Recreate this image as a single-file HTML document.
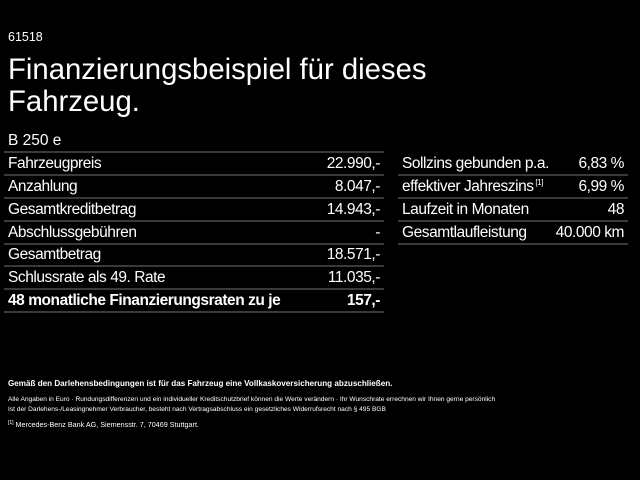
<!DOCTYPE html>
<html><head><meta charset="utf-8"><style>
body{margin:0;width:640px;height:480px;background:#000;color:#fff;font-family:"Liberation Sans",sans-serif;position:relative;overflow:hidden}
.a{position:absolute;white-space:nowrap}
.row{position:absolute;height:21px;border-bottom:2px solid #3a3a3a;font-size:15.5px;line-height:22px;letter-spacing:-0.45px}
.row span{position:absolute}
.r{right:4px}
.l{left:4px}
.s{font-size:12px;position:absolute;white-space:nowrap}
</style></head><body>
<div class="a" style="left:8px;top:54px;font-size:29.3px;line-height:32px">Finanzierungsbeispiel für dieses<br>Fahrzeug.</div>
<div class="a" style="left:8px;top:30px;font-size:12.5px">61518</div>
<div class="a" style="left:8px;top:132px;font-size:15.5px">B 250 e</div>
<div style="position:absolute;left:4px;top:151px;width:380px;height:2px;background:#3a3a3a"></div>
<div class="row" style="left:4px;width:380px;top:153px"><span class="l">Fahrzeugpreis</span><span class="r">22.990,-</span></div>
<div class="row" style="left:4px;width:380px;top:176px"><span class="l">Anzahlung</span><span class="r">8.047,-</span></div>
<div class="row" style="left:4px;width:380px;top:199px"><span class="l">Gesamtkreditbetrag</span><span class="r">14.943,-</span></div>
<div class="row" style="left:4px;width:380px;top:222px"><span class="l">Abschlussgebühren</span><span class="r">-</span></div>
<div class="row" style="left:4px;width:380px;top:244px"><span class="l">Gesamtbetrag</span><span class="r">18.571,-</span></div>
<div class="row" style="left:4px;width:380px;top:267px"><span class="l">Schlussrate als 49. Rate</span><span class="r">11.035,-</span></div>
<div class="row" style="left:4px;width:380px;top:290px;font-weight:bold"><span class="l">48 monatliche Finanzierungsraten zu je</span><span class="r">157,-</span></div>
<div class="row" style="left:398px;width:230px;top:153px"><span class="l">Sollzins gebunden p.a.</span><span class="r">6,83 %</span></div>
<div class="row" style="left:398px;width:230px;top:176px"><span class="l">effektiver Jahreszins<sup style="font-size:8px;vertical-align:top;line-height:14px"> [1]</sup></span><span class="r">6,99 %</span></div>
<div class="row" style="left:398px;width:230px;top:199px"><span class="l">Laufzeit in Monaten</span><span class="r">48</span></div>
<div class="row" style="left:398px;width:230px;top:222px"><span class="l">Gesamtlaufleistung</span><span class="r">40.000 km</span></div>
<div class="s" style="left:8px;top:379px;font-size:8.1px;font-weight:bold">Gemäß den Darlehensbedingungen ist für das Fahrzeug eine Vollkaskoversicherung abzuschließen.</div>
<div class="s" style="left:8px;top:396px;font-size:6.6px">Alle Angaben in Euro · Rundungsdifferenzen und ein individueller Kreditschutzbrief können die Werte verändern · Ihr Wunschrate errechnen wir Ihnen gerne persönlich</div>
<div class="s" style="left:8px;top:406px;font-size:6.6px">Ist der Darlehens-/Leasingnehmer Verbraucher, besteht nach Vertragsabschluss ein gesetzliches Widerrufsrecht nach § 495 BGB</div>
<div class="s" style="left:8px;top:420px;font-size:7.2px"><span style="font-size:5px;vertical-align:top">[1]</span> Mercedes-Benz Bank AG, Siemensstr. 7, 70469 Stuttgart.</div>
</body></html>
